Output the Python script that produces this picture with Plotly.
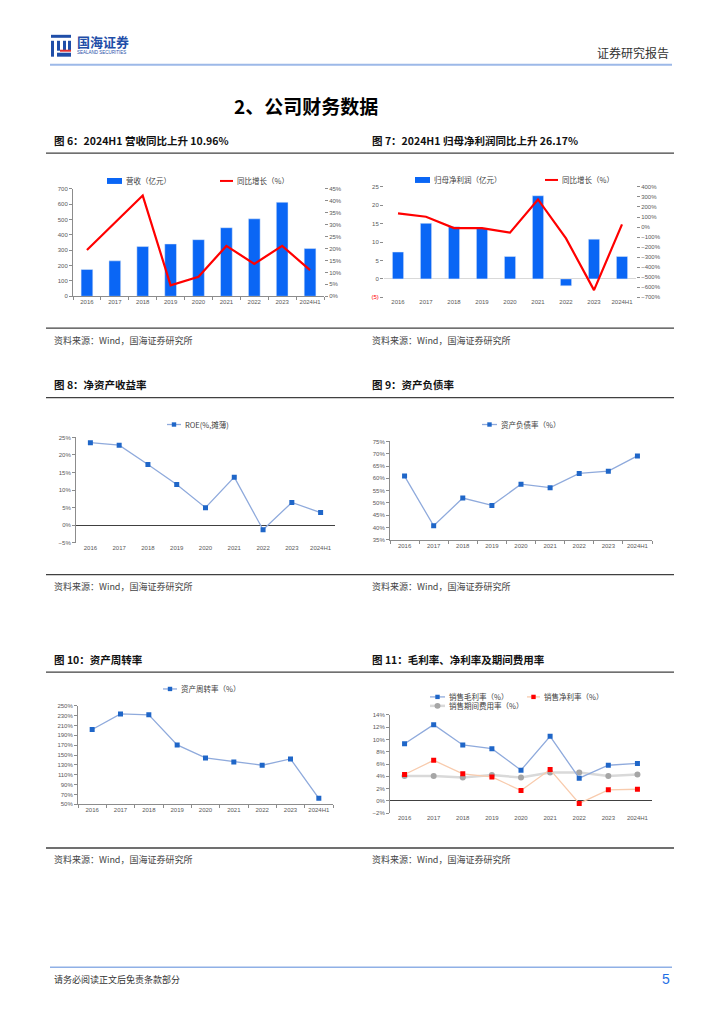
import plotly.graph_objects as go

W, H = 724, 1024

# ---------------- data ----------------
years = ["2016", "2017", "2018", "2019", "2020", "2021", "2022", "2023", "2024H1"]
revenue = [175, 231, 324, 341, 369, 447, 505, 613, 311]            # 营收（亿元）
revenue_yoy = [19.4, 31.0, 42.2, 4.6, 8.2, 21.1, 13.6, 21.1, 10.96]  # 同比增长（%）
net_profit = [7.3, 15.1, 14.2, 13.7, 6.1, 22.6, -1.9, 10.8, 6.1]     # 归母净利润（亿元）
net_profit_yoy = [136, 103, -10, -10, -56, 275, -113, -629, 26.17]   # 同比增长（%）
roe = [23.5, 22.8, 17.3, 11.6, 5.0, 13.7, -1.3, 6.5, 3.6]
debt_ratio = [60.9, 40.7, 52.0, 49.0, 57.6, 56.2, 62.0, 62.9, 69.1]
asset_turnover = [201.9, 233.7, 231.7, 170.7, 144.2, 136.1, 129.3, 142.2, 62.2]
gross_margin = [9.3, 12.4, 9.1, 8.5, 5.0, 10.5, 3.7, 5.8, 6.1]
net_margin = [4.3, 6.6, 4.4, 3.9, 1.7, 5.1, -0.4, 1.8, 1.9]
expense_ratio = [4.05, 4.05, 3.8, 4.2, 3.8, 4.6, 4.6, 4.05, 4.3]

# ---------------- styles ----------------
CJK = "Noto Sans CJK SC"
LAT = "Liberation Sans, Arial, sans-serif"
BAR_BLUE = "#0A66F5"
RED = "#FF0000"
LINE_BLUE = "#8FAADC"
MARK_BLUE = "#1F66C8"
AX = "#8C8C8C"
TICKFONT = dict(family=LAT, size=6, color="#595959")


def xdom(a, b):
    return [a / W, b / W]


def ydom(top, bot):
    return [1 - bot / H, 1 - top / H]


def px(x):
    return x / W


def py(y):
    return 1 - y / H


fig = go.Figure()

# chart 1: revenue
fig.add_trace(go.Bar(x=years, y=revenue, marker_color=BAR_BLUE, width=0.42,
                     xaxis="x", yaxis="y", name="营收（亿元）", showlegend=False))
fig.add_trace(go.Scatter(x=years, y=revenue_yoy, mode="lines", line=dict(color=RED, width=2.2),
                         xaxis="x", yaxis="y2", name="同比增长（%）", showlegend=False))
# chart 2: net profit
fig.add_trace(go.Bar(x=years, y=net_profit, marker_color=BAR_BLUE, width=0.4,
                     xaxis="x2", yaxis="y3", name="归母净利润（亿元）", showlegend=False))
fig.add_trace(go.Scatter(x=years, y=net_profit_yoy, mode="lines", line=dict(color=RED, width=2.2),
                         xaxis="x2", yaxis="y4", name="同比增长（%）", showlegend=False))
# chart 3: ROE
fig.add_trace(go.Scatter(x=years, y=roe, mode="lines+markers", line=dict(color=LINE_BLUE, width=1.3),
                         marker=dict(color=MARK_BLUE, size=5, symbol="square"),
                         xaxis="x3", yaxis="y5", name="ROE(%,摊薄)", showlegend=False))
# chart 4: debt ratio
fig.add_trace(go.Scatter(x=years, y=debt_ratio, mode="lines+markers", line=dict(color=LINE_BLUE, width=1.3),
                         marker=dict(color=MARK_BLUE, size=5, symbol="square"),
                         xaxis="x4", yaxis="y6", name="资产负债率（%）", showlegend=False))
# chart 5: asset turnover
fig.add_trace(go.Scatter(x=years, y=asset_turnover, mode="lines+markers", line=dict(color=LINE_BLUE, width=1.3),
                         marker=dict(color=MARK_BLUE, size=5, symbol="square"),
                         xaxis="x5", yaxis="y7", name="资产周转率（%）", showlegend=False))
# chart 6: margins
fig.add_trace(go.Scatter(x=years, y=expense_ratio, mode="lines+markers", line=dict(color="#D9D9D9", width=2.5),
                         marker=dict(color="#A6A6A6", size=6, symbol="circle"),
                         xaxis="x6", yaxis="y8", name="销售期间费用率（%）", showlegend=False))
fig.add_trace(go.Scatter(x=years, y=net_margin, mode="lines+markers", line=dict(color="#F8CBAD", width=1.3),
                         marker=dict(color=RED, size=5, symbol="square"),
                         xaxis="x6", yaxis="y8", name="销售净利率（%）", showlegend=False))
fig.add_trace(go.Scatter(x=years, y=gross_margin, mode="lines+markers", line=dict(color=LINE_BLUE, width=1.3),
                         marker=dict(color=MARK_BLUE, size=5, symbol="square"),
                         xaxis="x6", yaxis="y8", name="销售毛利率（%）", showlegend=False))


def xaxis(dom, anchor, line=True):
    return dict(domain=xdom(*dom), anchor=anchor, type="category", range=[-0.5, 8.5],
                showline=line, linecolor=AX, linewidth=1, tickangle=0,
                ticks="outside" if line else "", tickson="boundaries", ticklen=3, tickcolor=AX,
                tickfont=TICKFONT, showgrid=False, zeroline=False, fixedrange=True)


def yaxis(dom, anchor, rng, dtick, suffix="", line=True, zero=False, zcolor="#404040"):
    return dict(domain=ydom(*dom), anchor=anchor, range=rng, tick0=rng[0], dtick=dtick, ticksuffix=suffix,
                showline=line, linecolor=AX, linewidth=1, ticks="outside", ticklen=3, tickcolor=AX,
                tickfont=TICKFONT, showgrid=False, zeroline=zero, zerolinecolor=zcolor,
                zerolinewidth=1, fixedrange=True)


layout = dict(
    width=W, height=H, margin=dict(l=0, r=0, t=0, b=0),
    paper_bgcolor="white", plot_bgcolor="white", bargap=0.5,
    font=dict(family=CJK, color="#333333"),
    xaxis=xaxis((73, 324), "y"),
    yaxis=yaxis((187, 295), "x", [0, 700], 100),
    yaxis2=dict(overlaying="y", side="right", anchor="x", range=[0, 45], dtick=5, ticksuffix="%",
                showline=False, ticks="outside", ticklen=3, tickcolor=AX, tickfont=TICKFONT,
                showgrid=False, zeroline=False, fixedrange=True),
    xaxis2=xaxis((384, 636), "y3", line=False),
    yaxis3=dict(domain=ydom(185, 296), anchor="x2", range=[-5, 25],
                tickvals=[-5, 0, 5, 10, 15, 20, 25],
                ticktext=['<span style="color:#FF0000">(5)</span>', "0", "5", "10", "15", "20", "25"],
                showline=False, ticks="outside", ticklen=3, tickcolor=AX, tickfont=TICKFONT,
                showgrid=False, zeroline=True, zerolinecolor="#D9D9D9", zerolinewidth=1, fixedrange=True),
    yaxis4=dict(overlaying="y3", side="right", anchor="x2", range=[-700, 400], dtick=100, ticksuffix="%",
                showline=False, ticks="outside", ticklen=3, tickcolor=AX, tickfont=TICKFONT,
                showgrid=False, zeroline=False, fixedrange=True),
    xaxis3=xaxis((76, 335), "y5", line=False),
    yaxis5=yaxis((437, 543), "x3", [-5, 25], 5, "%", zero=True),
    xaxis4=xaxis((390, 652), "y6"),
    yaxis6=yaxis((441, 540), "x4", [35, 75], 5, "%"),
    xaxis5=xaxis((78, 333), "y7"),
    yaxis7=yaxis((707, 806), "x5", [50, 250], 20, "%"),
    xaxis6=xaxis((390, 652), "y8", line=False),
    yaxis8=yaxis((716, 815), "x6", [-2, 14], 2, "%", zero=True),
)
fig.update_layout(**layout)

shapes = []
annos = []


def text(x, y, s, size=9, color="#333333", anchor="left", family=CJK):
    annos.append(dict(x=px(x), y=py(y), xref="paper", yref="paper", text=s, showarrow=False,
                      xanchor=anchor, yanchor="middle", font=dict(family=family, size=size, color=color)))


def hline(x0, x1, y, color, width):
    shapes.append(dict(type="line", xref="paper", yref="paper", x0=px(x0), x1=px(x1), y0=py(y), y1=py(y),
                       line=dict(color=color, width=width)))


def rect(x0, y0, x1, y1, color):
    shapes.append(dict(type="rect", xref="paper", yref="paper", x0=px(x0), x1=px(x1), y0=py(y1), y1=py(y0),
                       fillcolor=color, line=dict(width=0)))


def circle(cx, cy, r, color):
    shapes.append(dict(type="circle", xref="paper", yref="paper", x0=px(cx - r), x1=px(cx + r),
                       y0=py(cy + r), y1=py(cy - r), fillcolor=color, line=dict(width=0)))


def legend_line(x0, x1, y, lcolor, mcolor, label, lw=1.3, circ=False):
    hline(x0, x1, y, lcolor, lw)
    cx = (x0 + x1) / 2
    if circ:
        circle(cx, y, 3, mcolor)
    else:
        rect(cx - 2.2, y - 2.2, cx + 2.2, y + 2.2, mcolor)
    text(x1 + 2, y, label, size=7.5, color="#404040")


# ---- header ----
logo = "#1F4EA8"
rect(51, 32, 71, 35, logo)
rect(51, 38, 54, 54, logo)
rect(57, 38, 60, 48, logo)
rect(63, 38, 66, 48, logo)
rect(68, 38, 71, 48, logo)
rect(57, 50, 71, 54, logo)
rect(60, 47, 71, 49, "#E03030")
text(75, 39, "<b>国海证券</b>", size=13, color=logo)
text(75, 50, "SEALAND SECURITIES", size=4.5, color=logo, family=LAT)
text(671, 50, "证券研究报告", size=12, color="#333333", anchor="right")
hline(50, 672, 62, "#9DB9E8", 2)

text(306, 103, "<b>2、公司财务数据</b>", size=19, color="#000000", anchor="center")

# ---- captions / rules / sources ----
captions = [
    (138, "图 6：2024H1 营收同比上升 10.96%", "图 7：2024H1 归母净利润同比上升 26.17%"),
    (384, "图 8：净资产收益率", "图 9：资产负债率"),
    (660, "图 10：资产周转率", "图 11：毛利率、净利率及期间费用率"),
]
for y, l, r in captions:
    text(52, y, "<b>" + l + "</b>", size=10.5, color="#111111")
    text(370, y, "<b>" + r + "</b>", size=10.5, color="#111111")
    hline(46, 674, y + 13, "#404040", 1.3)

for y in (339, 587, 862):
    hline(46, 674, y - 12, "#404040", 1.3)
    text(52, y, "资料来源：Wind，国海证券研究所", size=9, color="#444444")
    text(370, y, "资料来源：Wind，国海证券研究所", size=9, color="#444444")

# ---- legends ----
rect(107, 176, 122, 182, BAR_BLUE)
text(124, 179, "营收（亿元）", size=7.5, color="#404040")
hline(220, 233, 179, RED, 2)
text(235, 179, "同比增长（%）", size=7.5, color="#404040")

rect(415, 175, 430, 181, BAR_BLUE)
text(432, 178, "归母净利润（亿元）", size=7.5, color="#404040")
hline(545, 558, 178, RED, 2)
text(560, 178, "同比增长（%）", size=7.5, color="#404040")

legend_line(167, 181, 424, LINE_BLUE, MARK_BLUE, "ROE(%,摊薄)")
legend_line(482, 497, 424, LINE_BLUE, MARK_BLUE, "资产负债率（%）")
legend_line(163, 177, 690, LINE_BLUE, MARK_BLUE, "资产周转率（%）")
legend_line(430, 445, 698, LINE_BLUE, MARK_BLUE, "销售毛利率（%）")
legend_line(527, 540, 698, "#F8CBAD", RED, "销售净利率（%）")
legend_line(430, 445, 707, "#D9D9D9", "#A6A6A6", "销售期间费用率（%）", lw=2.5, circ=True)

# ---- footer ----
hline(50, 672, 970, "#8FB0E6", 1.5)
text(52, 982, "请务必阅读正文后免责条款部分", size=9, color="#333333")
text(672, 982, "5", size=14, color="#1F6FE5", anchor="right", family=LAT)

fig.update_layout(shapes=shapes, annotations=annos)
fig.write_html("out.html", config={"displayModeBar": False},
               post_script="document.body.style.margin='0';document.body.style.overflow='hidden';")
